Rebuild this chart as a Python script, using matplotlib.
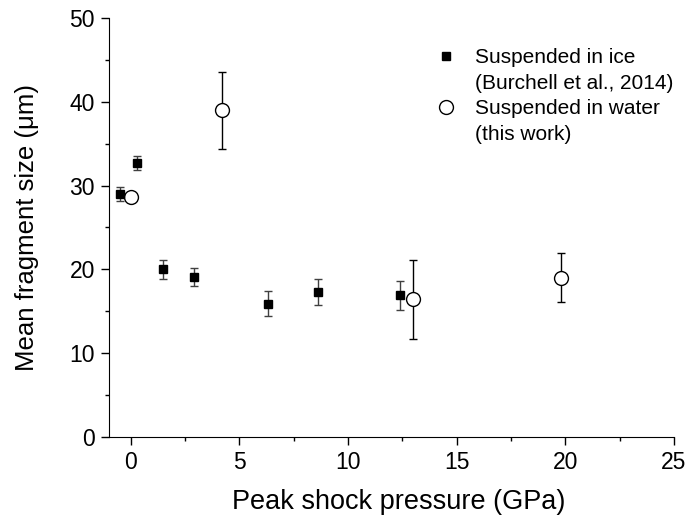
import matplotlib.pyplot as plt
from matplotlib.lines import Line2D
from matplotlib.ticker import MultipleLocator

plt.rcParams['font.family'] = ['Liberation Sans', 'DejaVu Sans']

# suspended in ice (Burchell et al., 2014)
ice_p = [-0.5, 0.3, 1.5, 2.9, 6.3, 8.6, 12.4]
ice_size = [29.0, 32.7, 20.0, 19.1, 15.9, 17.3, 16.9]
ice_err = [0.8, 0.8, 1.1, 1.1, 1.5, 1.6, 1.7]

# suspended in water (this work)
water_p = [0.0, 4.2, 13.0, 19.8]
water_size = [28.6, 39.0, 16.4, 19.0]
water_err = [0.0, 4.6, 4.7, 2.9]

fig = plt.figure(figsize=(6.94, 5.2), dpi=100)
ax = fig.add_axes([0.157, 0.160, 0.814, 0.805])

ax.errorbar(ice_p, ice_size, yerr=ice_err, fmt='none', ecolor='#404040',
            elinewidth=1, capsize=3, capthick=1, zorder=2)
ax.errorbar(water_p, water_size, yerr=water_err, fmt='none', ecolor='black',
            elinewidth=1, capsize=3, capthick=1, zorder=2)
ax.plot(water_p, water_size, 'o', mfc='white', mec='black', mew=1,
        markersize=10, ls='none', zorder=3)
ax.plot(ice_p, ice_size, 's', color='black', markersize=6, ls='none', zorder=4)

ax.set_xlim(-1, 25)
ax.set_ylim(0, 50)
ax.xaxis.set_major_locator(MultipleLocator(5))
ax.xaxis.set_minor_locator(MultipleLocator(2.5))
ax.yaxis.set_major_locator(MultipleLocator(10))
ax.yaxis.set_minor_locator(MultipleLocator(5))
ax.tick_params(which='major', direction='out', length=6, width=1,
               labelsize=16.5, pad=4)
ax.tick_params(which='minor', direction='out', length=3, width=1)
ax.spines['top'].set_visible(False)
ax.spines['right'].set_visible(False)

ax.set_xlabel('Peak shock pressure (GPa)', fontsize=19.5, labelpad=14)
ax.xaxis.set_label_coords(0.513, -0.125)
ax.set_ylabel('Mean fragment size (\u03bcm)', fontsize=18.5, labelpad=22)

# legend: marker on the first line of each two-line entry
blank = Line2D([], [], ls='none', marker='none')
handles = [
    Line2D([], [], ls='none', marker='s', color='black', markersize=6),
    blank,
    Line2D([], [], ls='none', marker='o', mfc='white', mec='black',
           mew=1, markersize=10),
    blank,
]
labels = ['Suspended in ice', '(Burchell et al., 2014)',
          'Suspended in water', '(this work)']
ax.legend(handles, labels, loc='upper left', bbox_to_anchor=(0.559, 0.928),
          frameon=False, fontsize=15, handletextpad=0.4, handlelength=2,
          labelspacing=0.31, borderpad=0, borderaxespad=0)

fig.savefig('out.png', dpi=100)
